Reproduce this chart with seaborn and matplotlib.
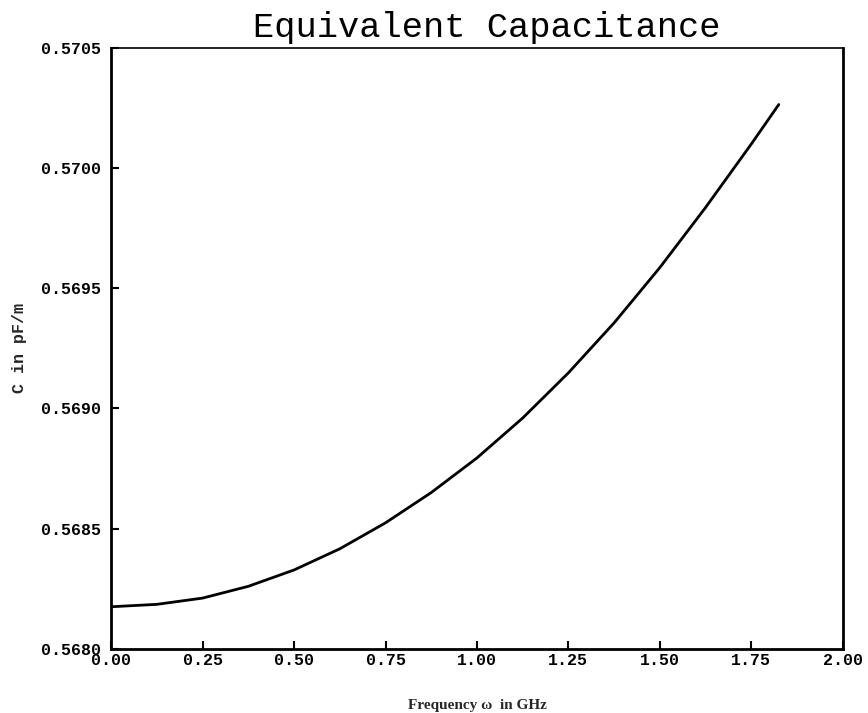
import pandas as pd
import matplotlib.pyplot as plt
import seaborn as sns

# values
freq_ghz = [0.0, 0.125, 0.25, 0.375, 0.5, 0.625, 0.75, 0.875, 1.0,
            1.125, 1.25, 1.375, 1.5, 1.625, 1.75, 1.825]
cap_pf_m = [0.568175, 0.568185, 0.568211, 0.568260, 0.568328, 0.568416,
            0.568524, 0.568650, 0.568794, 0.568960, 0.569148, 0.569356,
            0.569586, 0.569836, 0.570100, 0.570264]

x_ticks = [0.0, 0.25, 0.5, 0.75, 1.0, 1.25, 1.5, 1.75, 2.0]
y_ticks = [0.5680, 0.5685, 0.5690, 0.5695, 0.5700, 0.5705]


def main() -> None:
    df = pd.DataFrame({"freq": freq_ghz, "cap": cap_pf_m})

    sns.set_style("white")
    plt.rcParams["font.family"] = ["Liberation Mono", "DejaVu Sans Mono"]

    fig = plt.figure(figsize=(8.68, 7.13), dpi=100)
    ax = fig.add_axes([0.128, 0.090, 0.843, 0.843])

    sns.lineplot(data=df, x="freq", y="cap", ax=ax, color="black", linewidth=2.0)

    ax.set_xlim(0, 2.0)
    ax.set_ylim(0.5680, 0.5705)
    ax.set_xticks(x_ticks)
    ax.set_yticks(y_ticks)
    ax.set_xticklabels([f"{v:.2f}" for v in x_ticks], fontsize=12, fontweight="bold")
    ax.set_yticklabels([f"{v:.4f}" for v in y_ticks], fontsize=12, fontweight="bold")
    ax.tick_params(axis="both", direction="in", length=6, width=1.5, colors="black",
                   bottom=True, left=True, top=False, right=False)
    ax.tick_params(axis="x", pad=3)
    ax.tick_params(axis="y", pad=7)

    for side in ["left", "bottom", "right"]:
        ax.spines[side].set_color("black")
        ax.spines[side].set_linewidth(2)
    ax.spines["top"].set_color("black")
    ax.spines["top"].set_linewidth(1.2)

    ax.set_xlabel("Frequency ω  in GHz", fontsize=11, fontweight="bold",
                  family=["Liberation Serif", "DejaVu Serif"], labelpad=22)
    ax.set_ylabel("C in pF/m", fontsize=12, fontweight="bold",
                  family=["Liberation Mono", "DejaVu Sans Mono"], labelpad=10)

    fig.text(0.561, 0.962, "Equivalent Capacitance", ha="center", va="center",
             fontsize=25.5, color="black")

    fig.savefig("out.png", dpi=100)
    plt.close(fig)


if __name__ == "__main__":
    main()
